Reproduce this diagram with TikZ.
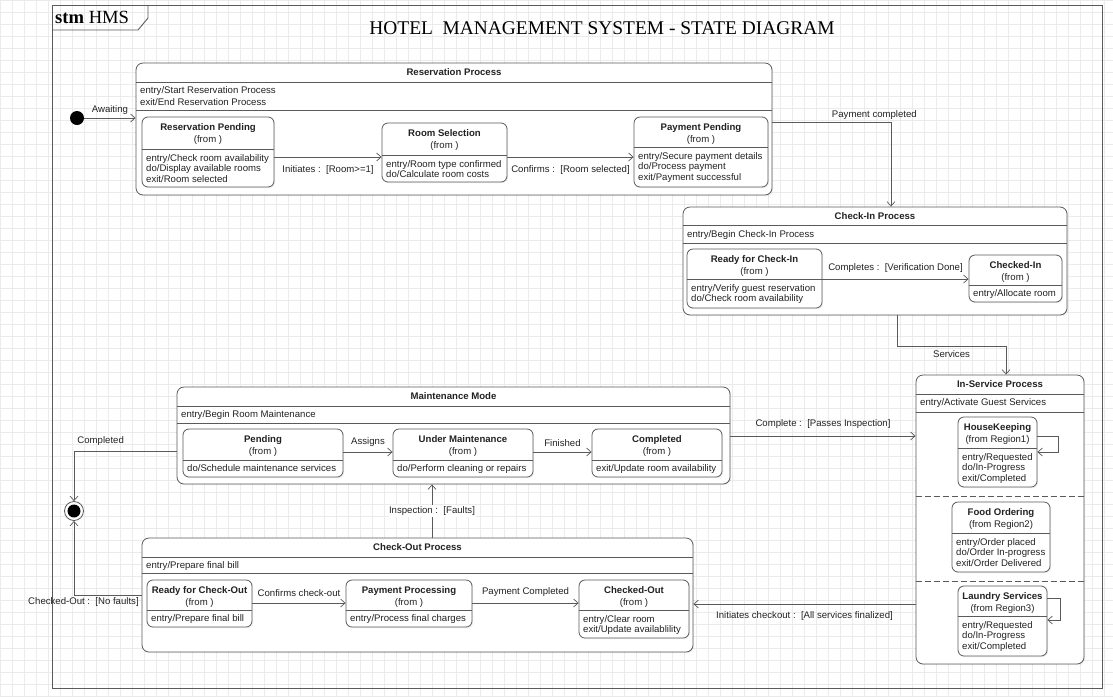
\documentclass[tikz,border=0pt]{standalone}
\usepackage{fontspec}
\usepackage{tikz}
\usetikzlibrary{arrows.meta, shadows}
\newfontfamily\uisans{Liberation Sans}
\newfontfamily\uiserif{Liberation Serif}
\definecolor{linec}{HTML}{5A5A5A}
\definecolor{textc}{HTML}{222222}
\definecolor{gridc}{HTML}{EBEBEB}

\begin{document}
\begin{tikzpicture}[x=1pt, y=-1pt,
    state/.style={draw=linec, line width=0.8pt, rounded corners=6pt, fill=white, inner sep=0pt,
        drop shadow={shadow xshift=1.2pt, shadow yshift=-1.2pt, opacity=0.12}},
    comp/.style={state, rounded corners=7pt},
    sname/.style={font=\uisans\fontsize{9.6}{12}\selectfont, text=textc, align=center, inner sep=0pt, anchor=north},
    chead/.style={font=\uisans\bfseries\fontsize{9.6}{12}\selectfont, text=textc, inner sep=0pt},
    sbody/.style={font=\uisans\fontsize{9.6}{10.7}\selectfont, text=textc, align=left, inner sep=0pt, anchor=north west},
    lbl/.style={font=\uisans\fontsize{9.6}{10.7}\selectfont, text=textc, inner sep=0pt},
    sepline/.style={draw=linec, line width=0.7pt},
    trans/.style={draw=linec, line width=0.7pt, -{Straight Barb[length=4.5pt, width=8pt]}},
    initial/.style={circle, fill=black, minimum size=14pt, inner sep=0pt},
    final/.style={circle, draw=linec, line width=0.8pt, fill=white, minimum size=19pt, inner sep=0pt,
        path picture={\fill[black] (path picture bounding box.center) circle (6.5pt);}}]
    \useasboundingbox (0,0) rectangle (1113,697);
    % background grid
    \draw[gridc, step=12pt] (0pt,0pt) grid (1113pt,-697pt);

    % frame
    \draw[linec, line width=0.9pt] (52,5) rectangle (1102,688);
    \draw[linec, line width=0.9pt] (52,30) -- (138,30) -- (148,18) -- (148,5);
    \node[font=\uiserif\fontsize{18.6}{20}\selectfont, anchor=west, inner sep=0pt] (tab) at (55,17.5) {\textbf{stm} HMS};
    \node[font=\uiserif\fontsize{19.4}{21}\selectfont, inner sep=0pt] (title) at (602,28) {HOTEL\ \ MANAGEMENT SYSTEM - STATE DIAGRAM};

    % composite states
    \node[comp, minimum width=636, minimum height=132] (resv) at (454,129) {};
    \node[comp, minimum width=384, minimum height=108] (checkin) at (875,261) {};
    \node[comp, minimum width=168, minimum height=289] (inservice) at (1000,519.5) {};
    \node[comp, minimum width=553, minimum height=97] (maint) at (453.5,435.5) {};
    \node[comp, minimum width=551, minimum height=114] (checkout) at (417.5,595) {};

    \node[chead] (resv-h) at (454,72.5) {Reservation Process};
    \draw[sepline] (resv.west |- 0,82) -- (resv.east |- 0,82);
    \draw[sepline] (resv.west |- 0,110) -- (resv.east |- 0,110);
    \node[sbody, font=\uisans\fontsize{9.6}{12}\selectfont] (resv-e) at (140,86) {entry/Start Reservation Process\\exit/End Reservation Process};

    \node[chead] (checkin-h) at (875,216) {Check-In Process};
    \draw[sepline] (checkin.west |- 0,225) -- (checkin.east |- 0,225);
    \draw[sepline] (checkin.west |- 0,243) -- (checkin.east |- 0,243);
    \node[sbody] (checkin-e) at (687,230) {entry/Begin Check-In Process};

    \node[chead] (inservice-h) at (1000,384.5) {In-Service Process};
    \draw[sepline] (inservice.west |- 0,394) -- (inservice.east |- 0,394);
    \draw[sepline] (inservice.west |- 0,412) -- (inservice.east |- 0,412);
    \node[sbody] (inservice-e) at (920,398.5) {entry/Activate Guest Services};
    \draw[sepline, dash pattern=on 6pt off 3pt] (inservice.west |- 0,496) -- (inservice.east |- 0,496);
    \draw[sepline, dash pattern=on 6pt off 3pt] (inservice.west |- 0,581) -- (inservice.east |- 0,581);

    \node[chead] (maint-h) at (453.5,396.5) {Maintenance Mode};
    \draw[sepline] (maint.west |- 0,406) -- (maint.east |- 0,406);
    \draw[sepline] (maint.west |- 0,423) -- (maint.east |- 0,423);
    \node[sbody] (maint-e) at (181,410.5) {entry/Begin Room Maintenance};

    \node[chead] (checkout-h) at (417.5,547.5) {Check-Out Process};
    \draw[sepline] (checkout.west |- 0,557) -- (checkout.east |- 0,557);
    \draw[sepline] (checkout.west |- 0,573) -- (checkout.east |- 0,573);
    \node[sbody] (checkout-e) at (146,561.5) {entry/Prepare final bill};

    % simple states
    \node[state, minimum width=132, minimum height=70] (rpend) at (208,152) {};
    \node[sname] (rpend-t) at (208,123) {\textbf{Reservation Pending}\\(from )};
    \draw[sepline] (rpend.west |- 0,149) -- (rpend.east |- 0,149);
    \node[sbody] (rpend-b) at (146,154) {entry/Check room availability\\do/Display available rooms\\exit/Room selected};

    \node[state, minimum width=125, minimum height=59] (rsel) at (444.5,152.5) {};
    \node[sname] (rsel-t) at (444.5,129) {\textbf{Room Selection}\\(from )};
    \draw[sepline] (rsel.west |- 0,155) -- (rsel.east |- 0,155);
    \node[sbody] (rsel-b) at (386,160) {entry/Room type confirmed\\do/Calculate room costs};

    \node[state, minimum width=134, minimum height=70] (ppend) at (701,152) {};
    \node[sname] (ppend-t) at (701,123) {\textbf{Payment Pending}\\(from )};
    \draw[sepline] (ppend.west |- 0,147) -- (ppend.east |- 0,147);
    \node[sbody] (ppend-b) at (638,152) {entry/Secure payment details\\do/Process payment\\exit/Payment successful};

    \node[state, minimum width=135, minimum height=59] (ready) at (754.5,278.5) {};
    \node[sname] (ready-t) at (754.5,255) {\textbf{Ready for Check-In}\\(from )};
    \draw[sepline] (ready.west |- 0,279) -- (ready.east |- 0,279);
    \node[sbody] (ready-b) at (691,284) {entry/Verify guest reservation\\do/Check room availability};

    \node[state, minimum width=93, minimum height=47] (checkedin) at (1015.5,278.5) {};
    \node[sname] (checkedin-t) at (1015.5,261) {\textbf{Checked-In}\\(from )};
    \draw[sepline] (checkedin.west |- 0,285) -- (checkedin.east |- 0,285);
    \node[sbody] (checkedin-b) at (973,289.5) {entry/Allocate room};

    \node[state, minimum width=79, minimum height=70] (hk) at (997.5,452) {};
    \node[sname] (hk-t) at (997.5,423) {\textbf{HouseKeeping}\\(from Region1)};
    \draw[sepline] (hk.west |- 0,448) -- (hk.east |- 0,448);
    \node[sbody] (hk-b) at (962,453) {entry/Requested\\do/In-Progress\\exit/Completed};

    \node[state, minimum width=98, minimum height=70] (food) at (1001,537) {};
    \node[sname] (food-t) at (1001,508) {\textbf{Food Ordering}\\(from Region2)};
    \draw[sepline] (food.west |- 0,533) -- (food.east |- 0,533);
    \node[sbody] (food-b) at (956,538) {entry/Order placed\\do/Order In-progress\\exit/Order Delivered};

    \node[state, minimum width=89, minimum height=70] (laundry) at (1002.5,621) {};
    \node[sname] (laundry-t) at (1002.5,592) {\textbf{Laundry Services}\\(from Region3)};
    \draw[sepline] (laundry.west |- 0,616) -- (laundry.east |- 0,616);
    \node[sbody] (laundry-b) at (962,621) {entry/Requested\\do/In-Progress\\exit/Completed};

    \node[state, minimum width=160, minimum height=48] (mpend) at (263,453) {};
    \node[sname] (mpend-t) at (263,435) {\textbf{Pending}\\(from )};
    \draw[sepline] (mpend.west |- 0,460) -- (mpend.east |- 0,460);
    \node[sbody] (mpend-b) at (187,464.5) {do/Schedule maintenance services};

    \node[state, minimum width=140, minimum height=48] (under) at (463,453) {};
    \node[sname] (under-t) at (463,435) {\textbf{Under Maintenance}\\(from )};
    \draw[sepline] (under.west |- 0,460) -- (under.east |- 0,460);
    \node[sbody] (under-b) at (397,464.5) {do/Perform cleaning or repairs};

    \node[state, minimum width=130, minimum height=48] (mdone) at (657,453) {};
    \node[sname] (mdone-t) at (657,435) {\textbf{Completed}\\(from )};
    \draw[sepline] (mdone.west |- 0,460) -- (mdone.east |- 0,460);
    \node[sbody] (mdone-b) at (596,464.5) {exit/Update room availability};

    \node[state, minimum width=105, minimum height=47] (readyout) at (199.5,603.5) {};
    \node[sname] (readyout-t) at (199.5,586) {\textbf{Ready for Check-Out}\\(from )};
    \draw[sepline] (readyout.west |- 0,610) -- (readyout.east |- 0,610);
    \node[sbody] (readyout-b) at (151,614.5) {entry/Prepare final bill};

    \node[state, minimum width=126, minimum height=47] (payproc) at (409,603.5) {};
    \node[sname] (payproc-t) at (409,586) {\textbf{Payment Processing}\\(from )};
    \draw[sepline] (payproc.west |- 0,610) -- (payproc.east |- 0,610);
    \node[sbody] (payproc-b) at (350,614.5) {entry/Process final charges};

    \node[state, minimum width=110, minimum height=58] (checkedout) at (634,609) {};
    \node[sname] (checkedout-t) at (634,586) {\textbf{Checked-Out}\\(from )};
    \draw[sepline] (checkedout.west |- 0,610) -- (checkedout.east |- 0,610);
    \node[sbody] (checkedout-b) at (583,615) {entry/Clear room\\exit/Update availablility};

    % pseudo states
    \node[initial] (init) at (77,118) {};
    \node[final] (final) at (74,511) {};

    % transitions
    \draw[trans] (init) -- node[lbl, above=3pt] {Awaiting} (resv.west |- init);
    \draw[trans] (rpend.east |- 0,157) -- node[lbl, below=8pt] {Initiates :\ \ [Room>=1]} (rsel.west |- 0,157);
    \draw[trans] (rsel.east |- 0,157) -- node[lbl, below=8pt] {Confirms :\ \ [Room selected]} (ppend.west |- 0,157);
    \draw[trans] (resv.east |- 0,122) -| node[lbl, above=2pt, pos=0.43] {Payment completed} (checkin.north -| 891,0);
    \draw[trans] (ready.east |- 0,279) -- node[lbl, above=6pt] {Completes :\ \ [Verification Done]} (checkedin.west |- 0,279);
    \draw[trans] (checkin.south -| 897,0) -- ++(0,31) -| node[lbl, below=4pt, pos=0.25] {Services} (inservice.north -| 1006,0);
    \draw[trans] (hk.east |- 0,436) -- ++(21,0) |- (hk.east |- 0,452);
    \draw[trans] (laundry.east |- 0,598) -- ++(13,0) |- (laundry.east |- 0,620);
    \draw[trans] (maint.east |- 0,436) -- node[lbl, above=7pt] {Complete :\ \ [Passes Inspection]} (inservice.west |- 0,436);
    \draw[trans] (mpend.east |- 0,452) -- node[lbl, above=5pt] {Assigns} (under.west |- 0,452);
    \draw[trans] (under.east |- 0,452) -- node[lbl, above=5pt] {Finished} (mdone.west |- 0,452);
    \draw[trans] (maint.west |- 0,451) -| node[lbl, above=5pt, pos=0.37] {Completed} (final.north);
    \draw[trans] (checkout.west |- 0,595) -| node[lbl, below=2.5pt, pos=0.43] {Checked-Out :\ \ [No faults]} (final.south);
    \draw[trans] (readyout.east |- 0,603) -- node[lbl, above=6pt] {Confirms check-out} (payproc.west |- 0,603);
    \draw[trans] (payproc.east |- 0,603) -- node[lbl, above=6pt] {Payment Completed} (checkedout.west |- 0,603);
    \draw[trans] (checkout.north -| 432,0) -- node[lbl, fill=white, inner sep=1.5pt] {Inspection :\ \ [Faults]} (maint.south -| 432,0);
    \draw[trans] (inservice.west |- 0,604) -- node[lbl, below=7pt] {Initiates checkout :\ \ [All services finalized]} (checkout.east |- 0,604);
\end{tikzpicture}
\end{document}
